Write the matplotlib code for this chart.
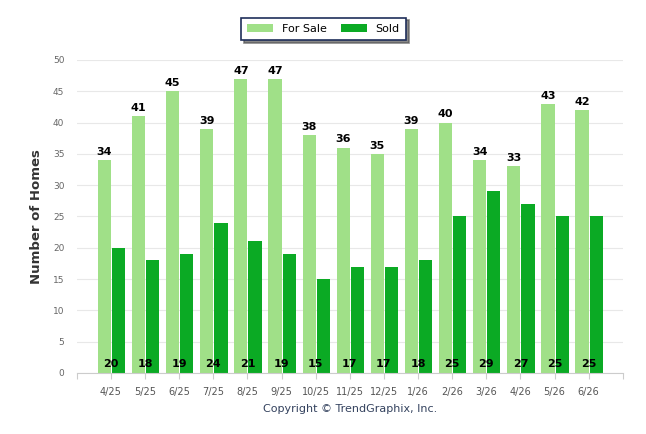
import matplotlib
matplotlib.use("Agg")
import matplotlib.pyplot as plt
import numpy as np

# Monthly home counts
months = ["4/25", "5/25", "6/25", "7/25", "8/25", "9/25", "10/25", "11/25",
          "12/25", "1/26", "2/26", "3/26", "4/26", "5/26", "6/26"]
for_sale = [34, 41, 45, 39, 47, 47, 38, 36, 35, 39, 40, 34, 33, 43, 42]
sold = [20, 18, 19, 24, 21, 19, 15, 17, 17, 18, 25, 29, 27, 25, 25]

plt.rcParams['font.family'] = ['DejaVu Sans']

fig = plt.figure(figsize=(6.46, 4.34), dpi=100)
ax = fig.add_axes([0.119, 0.1406, 0.845, 0.7214])

x = np.arange(len(months))
w = 0.385
ax.bar(x - w / 2, for_sale, width=w, color='#a0e088', label='For Sale', zorder=2)
ax.bar(x + 0.03 + w / 2, sold, width=w, color='#0baa24', label='Sold', zorder=2)

for xi, v in zip(x, for_sale):
    ax.text(xi - w / 2, v + 0.5, str(v), ha='center', va='bottom',
            fontsize=8, fontweight='bold', color='black')
for xi, v in zip(x, sold):
    ax.text(xi, 0.6, str(v), ha='center', va='bottom',
            fontsize=8, fontweight='bold', color='black', zorder=3)

ax.set_xlim(-1, len(months))
ax.set_ylim(0, 50)
ax.set_yticks(range(0, 51, 5))
ax.tick_params(axis='y', length=0, labelsize=6.5, labelcolor='#666666', pad=9)

ax.set_xticks(np.arange(-1, len(months) + 1))
ax.set_xticklabels([""] + months + [""])
ax.tick_params(axis='x', length=4, color='#cccccc', labelsize=7,
               labelcolor='#555555', pad=6)

ax.grid(axis='y', color='#e8e8e8', linewidth=0.8, zorder=0)
for s in ['top', 'right', 'left']:
    ax.spines[s].set_visible(False)
ax.spines['bottom'].set_color('#cccccc')

ax.set_ylabel("Number of Homes", fontsize=9.5, fontweight='bold',
              color='#333333', labelpad=7)

leg = fig.legend(loc='upper center', bbox_to_anchor=(0.501, 0.972), ncol=2,
                 fontsize=8, frameon=True, fancybox=False,
                 shadow={'color': '#555555', 'alpha': 0.7, 'ox': 2, 'oy': -2},
                 handlelength=2.3, handleheight=0.7, columnspacing=1.3,
                 borderpad=0.55)
leg.get_frame().set_edgecolor('#1f2f5a')
leg.get_frame().set_linewidth(1.2)

fig.text(0.542, 0.057, "Copyright \u00a9 TrendGraphix, Inc.", ha='center',
         va='center', fontsize=8, color='#34425e')

fig.savefig("out.png", dpi=100)
